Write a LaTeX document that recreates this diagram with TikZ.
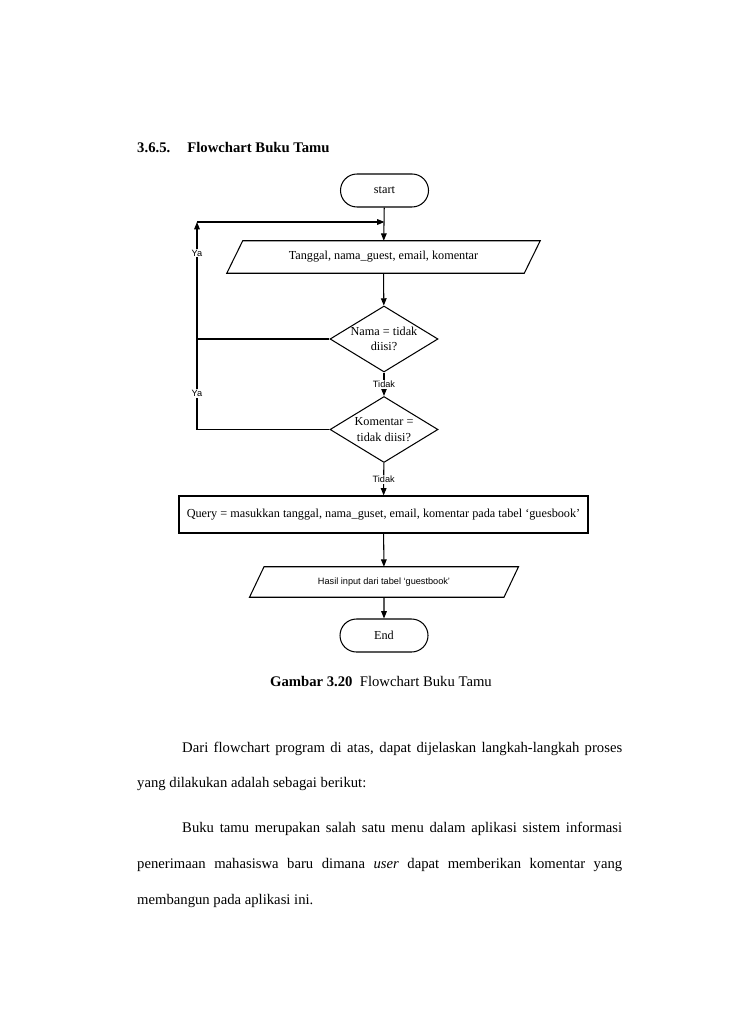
\documentclass[tikz,border=0pt]{standalone}
\usepackage{fontspec}
\setmainfont{Liberation Serif}
\setsansfont{Liberation Sans}
\usetikzlibrary{shapes.geometric,shapes.misc,arrows.meta}
\def\U{0.8174pt}
\begin{document}
\begin{tikzpicture}[x=\U,y=-\U,
  line/.style={line width=0.85pt},
  arr/.style={line width=0.85pt,-{Triangle[length=6pt,width=4.6pt]}},
  terminal/.style={rounded rectangle,draw,line width=0.85pt,minimum width=88*\U,minimum height=33*\U,inner sep=0pt,font=\fontsize{10}{12}\selectfont},
  iobox/.style={rectangle,inner sep=0pt,font=\fontsize{10}{12}\selectfont},
  procbox/.style={rectangle,draw,line width=0.85pt,inner sep=0pt,minimum width=409*\U,minimum height=37*\U,font=\fontsize{10}{12}\selectfont},
  decision/.style={diamond,draw,line width=0.85pt,inner sep=0pt,minimum width=108*\U,minimum height=66*\U},
  dtext/.style={align=center,inner sep=0pt,font=\fontsize{10}{12.5}\selectfont},
  lbl/.style={font=\sffamily\fontsize{7.5}{9}\selectfont,fill=white,inner sep=1pt},
  body/.style={anchor=base west,inner sep=0pt,font=\fontsize{12}{14}\selectfont}]
\useasboundingbox (0,0) rectangle (728,1030);

% title
\node[body,font=\bfseries\fontsize{12}{14}\selectfont] (title) at (137,153) {\makebox[41pt][l]{3.6.5.}Flowchart Buku Tamu};

% nodes
\node[terminal] (start) at (384.5,190.5) {start};
\node[iobox,minimum width=297*\U,minimum height=32*\U] (p1) at (383.5,257) {Tanggal, nama\_guest, email, komentar};
\draw[line] ([xshift=8*\U]p1.north west) -- ([xshift=8*\U]p1.north east) -- ([xshift=-8*\U]p1.south east) -- ([xshift=-8*\U]p1.south west) -- cycle;
\node[decision] (d1) at (384,339) {};
\node[dtext] (t1) at (d1.center) {Nama = tidak\\diisi?};
\node[decision] (d2) at (384,429.5) {};
\node[dtext] (t2) at (d2.center) {Komentar =\\tidak diisi?};
\node[procbox] (q) at (383.5,514.5) {Query = masukkan tanggal, nama\_guset, email, komentar pada tabel ‘guesbook’};
\node[iobox,minimum width=254*\U,minimum height=30*\U,font=\sffamily\fontsize{7.5}{9}\selectfont] (p2) at (384,582) {Hasil input dari tabel ‘guestbook’};
\draw[line] ([xshift=7.25*\U]p2.north west) -- ([xshift=7.25*\U]p2.north east) -- ([xshift=-7.25*\U]p2.south east) -- ([xshift=-7.25*\U]p2.south west) -- cycle;
\node[terminal] (end) at (384,635.5) {End};

% loop coordinates
\coordinate (c2) at (197,429.5);
\coordinate (c1) at (197,339);
\coordinate (ctop) at (197,222);
\coordinate (join) at (384.5,222);

% connectors
\draw[arr] (start) -- (p1);
\draw[arr] (p1) -- (d1);
\draw[arr] (d1) -- node[lbl]{Tidak} (d2);
\draw[arr] (d2) -- node[lbl]{Tidak} (q);
\draw[arr] (q) -- (p2);
\draw[arr] (p2) -- (end);
\draw[line] (d2.west) -- (c2) -- node[lbl,pos=0.4]{Ya} (c1);
\draw[line] (d1.west) -- (c1);
\draw[arr] (c1) -- node[lbl,pos=0.735]{Ya} (ctop);
\draw[arr] (ctop) -- (join);

% caption
\node[anchor=base,inner sep=0pt,font=\fontsize{12}{14}\selectfont] (cap) at (381,686) {\textbf{Gambar 3.20}\enspace Flowchart Buku Tamu};

% paragraph
\node[body] (l1) at (182,752) {\makebox[359.6pt][s]{Dari flowchart program di atas, dapat dijelaskan langkah-langkah proses}};
\node[body] (l2) at (137,787) {yang dilakukan adalah sebagai berikut:};
\node[body] (l3) at (182,832) {\makebox[359.6pt][s]{Buku tamu merupakan salah satu menu dalam aplikasi sistem informasi}};
\node[body] (l4) at (137,868) {\makebox[396.4pt][s]{penerimaan mahasiswa baru dimana \textit{user} dapat memberikan komentar yang}};
\node[body] (l5) at (137,904) {membangun pada aplikasi ini.};
\end{tikzpicture}
\end{document}
